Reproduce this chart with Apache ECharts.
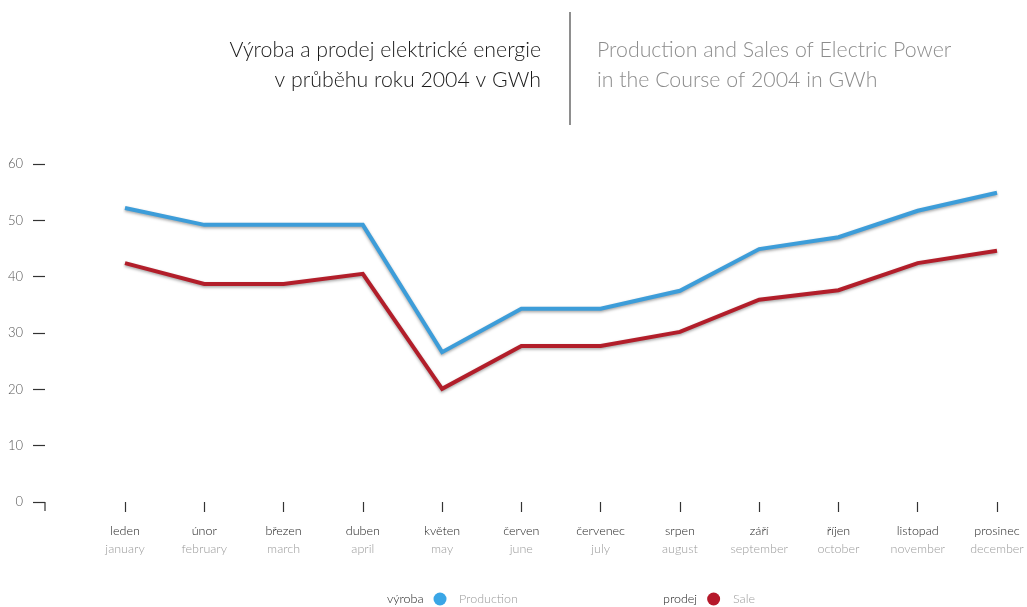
<!DOCTYPE html>
<html>
<head>
<meta charset="utf-8">
<script src="https://cdn.jsdelivr.net/npm/echarts@6/dist/echarts.min.js"></script>
<style>
html,body{margin:0;padding:0;background:#fff;}
#c{width:1027px;height:607px;}
</style>
</head>
<body>
<div id="c"></div>
<script>
const months = ['leden','únor','březen','duben','květen','červen','červenec','srpen','září','říjen','listopad','prosinec'];
const monthsEn = ['january','february','march','april','may','june','july','august','september','october','november','december'];
const production = [52.2,49.2,49.2,49.2,26.6,34.3,34.3,37.5,44.9,47.0,51.7,54.9];
const sale = [42.4,38.7,38.7,40.5,20.1,27.7,27.7,30.2,35.9,37.6,42.4,44.6];
const yMin = 0, yMax = 60, yStep = 10;

const FONT = 'Lato, "Open Sans", sans-serif';
const chart = echarts.init(document.getElementById('c'));
chart.setOption({
  backgroundColor: '#fff',
  animation: false,
  grid: {left: 125, right: 30, top: 164, bottom: 105, containLabel: false},
  xAxis: {
    type: 'category',
    data: months,
    boundaryGap: false,
    axisLine: {show: false},
    axisTick: {show: true, length: 10, lineStyle: {color: '#333', width: 1.2}},
    axisLabel: {
      margin: 20,
      interval: 0,
      formatter: (v, i) => '{cz|' + v + '}\n{en|' + monthsEn[i] + '}',
      rich: {
        cz: {fontFamily: FONT, fontSize: 12.5, color: '#222', lineHeight: 18, fontWeight: 300},
        en: {fontFamily: FONT, fontSize: 12.5, color: '#9a9a9a', lineHeight: 18, fontWeight: 300}
      }
    },
    splitLine: {show: false}
  },
  yAxis: {
    type: 'value',
    min: yMin, max: yMax, interval: yStep,
    offset: 80,
    axisLine: {show: false},
    axisTick: {show: true, length: 12, lineStyle: {color: '#333', width: 1.2}},
    axisLabel: {margin: 22, fontFamily: FONT, fontSize: 13, color: '#555', fontWeight: 300},
    splitLine: {show: false}
  },
  legend: [
    {data: ['výroba'], left: 387, top: 592.5, padding: 0, align: 'right', icon: 'circle', itemWidth: 13, itemHeight: 13,
     textStyle: {fontFamily: FONT, fontSize: 12.5, color: '#222', fontWeight: 300, padding: [0, 5, 0, 0]}, selectedMode: false},
    {data: ['prodej'], left: 663, top: 592.5, padding: 0, align: 'right', icon: 'circle', itemWidth: 13, itemHeight: 13,
     textStyle: {fontFamily: FONT, fontSize: 12.5, color: '#222', fontWeight: 300, padding: [0, 5, 0, 0]}, selectedMode: false}
  ],
  graphic: [
    {type: 'text', x: 541, y: 50, style: {text: 'Výroba a prodej elektrické energie', fontFamily: FONT, fontWeight: 300, fontSize: 21.3, fill: '#1a1a1a', align: 'right', verticalAlign: 'middle'}},
    {type: 'text', x: 541, y: 80, style: {text: 'v průběhu roku 2004 v GWh', fontFamily: FONT, fontWeight: 300, fontSize: 21.3, fill: '#1a1a1a', align: 'right', verticalAlign: 'middle'}},
    {type: 'text', x: 597, y: 50, style: {text: 'Production and Sales of Electric Power', fontFamily: FONT, fontWeight: 300, fontSize: 21.3, fill: '#8c8c8c', align: 'left', verticalAlign: 'middle'}},
    {type: 'text', x: 597, y: 80, style: {text: 'in the Course of 2004 in GWh', fontFamily: FONT, fontWeight: 300, fontSize: 21.3, fill: '#8c8c8c', align: 'left', verticalAlign: 'middle'}},
    {type: 'line', shape: {x1: 570, y1: 12, x2: 570, y2: 125}, style: {stroke: '#444', lineWidth: 1.2}},
    {type: 'line', shape: {x1: 45, y1: 502, x2: 45, y2: 511}, style: {stroke: '#333', lineWidth: 1.2}},
    {type: 'text', x: 459, y: 599, style: {text: 'Production', fontFamily: FONT, fontWeight: 300, fontSize: 12.5, fill: '#9a9a9a', align: 'left', verticalAlign: 'middle'}},
    {type: 'text', x: 733, y: 599, style: {text: 'Sale', fontFamily: FONT, fontWeight: 300, fontSize: 12.5, fill: '#9a9a9a', align: 'left', verticalAlign: 'middle'}}
  ],
  series: [
    {name: 'výroba', type: 'line', data: production, symbol: 'none', color: '#3aa6e6',
     lineStyle: {color: '#3d9dd9', width: 4, join: 'miter', shadowColor: 'rgba(0,0,0,0.35)', shadowBlur: 3, shadowOffsetY: 1.5}},
    {name: 'prodej', type: 'line', data: sale, symbol: 'none', color: '#b5182a',
     lineStyle: {color: '#b21e2a', width: 4, join: 'miter', shadowColor: 'rgba(0,0,0,0.35)', shadowBlur: 3, shadowOffsetY: 1.5}}
  ]
});
</script>
</body>
</html>
